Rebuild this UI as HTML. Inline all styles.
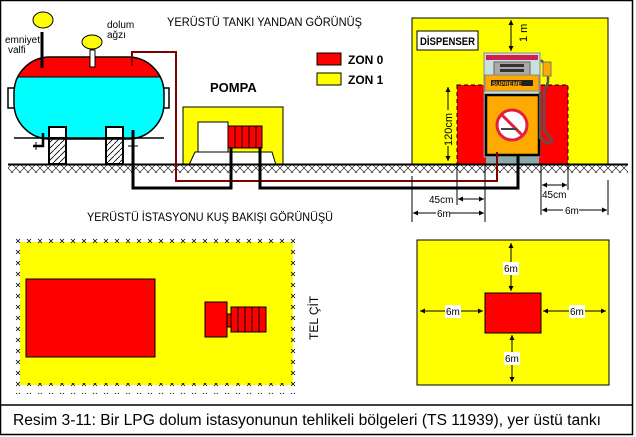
<!DOCTYPE html>
<html><head><meta charset="utf-8"><style>
html,body{margin:0;padding:0;background:#fff}
svg{display:block}
text{font-family:"Liberation Sans",sans-serif}
</style></head><body>
<svg width="636" height="437" viewBox="0 0 636 437" xmlns="http://www.w3.org/2000/svg">
<defs>
<pattern id="hx" width="8" height="8" patternUnits="userSpaceOnUse">
<path d="M0,0L8,8M8,0L0,8" stroke="#000" stroke-width="0.6"/>
</pattern>
<pattern id="hatch" width="6" height="6" patternUnits="userSpaceOnUse">
<path d="M0,6L6,0" stroke="#000" stroke-width="0.8"/>
</pattern>
<pattern id="fx" x="13" y="236" width="11" height="11" patternUnits="userSpaceOnUse">
<path d="M3,3L7,7M7,3L3,7" stroke="#000" stroke-width="0.8"/>
</pattern>
<marker id="ar" viewBox="0 0 6 6" refX="6" refY="3" markerWidth="5" markerHeight="5" orient="auto-start-reverse"><path d="M0,0L6,3L0,6z" fill="#000"/></marker>
</defs>
<rect x="0.5" y="0.5" width="632" height="434" fill="#fff" stroke="#000" stroke-width="1.5"/>
<line x1="0" y1="405" x2="633" y2="405" stroke="#000" stroke-width="1.5"/>
<text x="13" y="425" font-size="15.5" textLength="588" lengthAdjust="spacingAndGlyphs">Resim 3-11: Bir LPG dolum istasyonunun tehlikeli bölgeleri (TS 11939), yer üstü tankı</text>

<!-- titles -->
<text x="167" y="26" font-size="11.5" textLength="195" lengthAdjust="spacingAndGlyphs">YERÜSTÜ TANKI  YANDAN GÖRÜNÜŞ</text>
<text x="87" y="221" font-size="11.5" textLength="246" lengthAdjust="spacingAndGlyphs">YERÜSTÜ İSTASYONU  KUŞ BAKIŞI GÖRÜNÜŞÜ</text>

<!-- dispenser yellow zone -->
<rect x="412" y="18" width="196" height="147" fill="#ff0" stroke="#000"/>
<rect x="457" y="85" width="111" height="80" fill="#f00" stroke="#000" stroke-dasharray="4,3"/>
<rect x="417" y="31" width="61" height="19" fill="#fff" stroke="#000"/>
<text x="420" y="45" font-size="11" font-weight="bold" textLength="55" lengthAdjust="spacingAndGlyphs">DİSPENSER</text>
<line x1="511" y1="20" x2="511" y2="51" stroke="#000" marker-start="url(#ar)" marker-end="url(#ar)"/>
<text transform="translate(527,42) rotate(-90)" font-size="11">1 m</text>
<line x1="448" y1="87" x2="448" y2="161" stroke="#000" marker-start="url(#ar)" marker-end="url(#ar)"/>
<rect x="442" y="110" width="12" height="36" fill="#ff0"/>
<text transform="translate(452,146) rotate(-90)" font-size="11">120cm</text>

<!-- dispenser -->
<rect x="484" y="53" width="56" height="104" fill="#c8e0e0" stroke="#888"/>
<rect x="486" y="55" width="52" height="5" fill="#d02050"/>
<rect x="494" y="62" width="36" height="13" fill="#aaa" stroke="#666"/>
<rect x="500" y="64" width="24" height="3" fill="#333"/><rect x="500" y="69" width="24" height="3" fill="#333"/>
<rect x="485" y="75" width="54" height="16" fill="#fa0" stroke="#888"/>
<rect x="491" y="80" width="42" height="6" fill="#222"/>
<text x="492" y="86" font-size="6" fill="#fa0" font-weight="bold">SUPREME</text>
<rect x="486" y="95" width="53" height="60" fill="#fa0" stroke="#000" stroke-width="2.5"/>
<circle cx="512" cy="125" r="15" fill="#fff" stroke="#e02040" stroke-width="3"/>
<line x1="502" y1="115" x2="522" y2="135" stroke="#e02040" stroke-width="3"/>
<rect x="501" y="128" width="16" height="2" fill="#444"/>
<rect x="486" y="157" width="53" height="8" fill="#8aa"/>
<path d="M541,60 L548,68 L548,82 L544,92 L544,130 L552,140 L548,144 L540,138 L540,92" fill="none" stroke="#555" stroke-width="2.5"/>
<rect x="543" y="62" width="8" height="14" fill="#fa0" stroke="#777"/>

<!-- tank -->
<rect x="8" y="88" width="7" height="20" fill="#fff" stroke="#000" stroke-width="1.5"/>
<rect x="162" y="88" width="7" height="20" fill="#fff" stroke="#000" stroke-width="1.5"/>
<clipPath id="tc"><rect x="14" y="57" width="150" height="82" rx="36" ry="36"/></clipPath>
<g clip-path="url(#tc)">
<rect x="14" y="57" width="150" height="82" fill="#0ff"/>
<rect x="14" y="57" width="150" height="20" fill="#f00"/>
<line x1="14" y1="77" x2="164" y2="77" stroke="#000"/>
</g>
<rect x="14" y="57" width="150" height="82" rx="36" ry="36" fill="none" stroke="#000" stroke-width="1.5"/>
<line x1="42" y1="32" x2="42" y2="68" stroke="#000" stroke-width="3"/>
<ellipse cx="43" cy="20" rx="10" ry="8" fill="#ff0" stroke="#000"/>
<rect x="90" y="50" width="5" height="17" fill="#fff" stroke="#000"/>
<ellipse cx="92" cy="42" rx="10" ry="7" fill="#ff0" stroke="#000"/>
<text x="5" y="43" font-size="10">emniyet</text>
<text x="8" y="53" font-size="10">valfi</text>
<text x="107" y="28" font-size="10">dolum</text>
<text x="107" y="38" font-size="10">ağzı</text>
<line x1="14" y1="138" x2="164" y2="138" stroke="#000" stroke-width="1.5"/>
<rect x="49" y="127" width="17" height="37" fill="url(#hatch)" stroke="#000" stroke-width="2"/>
<rect x="106" y="127" width="17" height="37" fill="url(#hatch)" stroke="#000" stroke-width="2"/>
<rect x="49" y="127" width="17" height="11" fill="#fff" stroke="#000" stroke-width="2"/>
<rect x="106" y="127" width="17" height="11" fill="#fff" stroke="#000" stroke-width="2"/>
<path d="M43,133 L43,146 L33,146" fill="none" stroke="#000" stroke-width="2.5"/>
<line x1="36" y1="142" x2="36" y2="150" stroke="#000"/>
<line x1="128" y1="146" x2="138" y2="146" stroke="#000"/>

<!-- pump -->
<text x="210" y="92" font-size="13" font-weight="bold">POMPA</text>
<rect x="183" y="107" width="100" height="58" fill="#ff0" stroke="#000"/>
<path d="M189,165 L195,152 L272,152 L276,165" fill="#fff" stroke="#000"/>
<rect x="198" y="122" width="30" height="30" fill="#fff" stroke="#000"/>
<rect x="228" y="126" width="34" height="22" fill="#f00" stroke="#000"/>
<path d="M235,126V148M242,126V148M249,126V148M256,126V148" stroke="#000"/>

<!-- legend -->
<rect x="317" y="53" width="24" height="12" fill="#f00" stroke="#000"/>
<text x="348" y="64" font-size="12" font-weight="bold">ZON 0</text>
<rect x="317" y="73" width="24" height="12" fill="#ff0" stroke="#000"/>
<text x="348" y="84" font-size="12" font-weight="bold">ZON 1</text>

<!-- ground -->
<rect x="8" y="165" width="620" height="8" fill="url(#hx)"/>
<line x1="8" y1="164.5" x2="628" y2="164.5" stroke="#000" stroke-width="2"/>

<!-- pipes -->
<path d="M132,66 L132,52 L176,52 L176,181 L497,181 L497,152" fill="none" stroke="#800000" stroke-width="2"/>
<path d="M133,130 L133,188 L231,188 L231,147" fill="none" stroke="#000" stroke-width="3"/>
<path d="M260,147 L260,188 L518,188 L518,156" fill="none" stroke="#000" stroke-width="3"/>

<!-- dimensions -->
<g stroke="#000">
<line x1="412" y1="176" x2="412" y2="222"/>
<line x1="457" y1="165" x2="457" y2="205"/>
<line x1="485" y1="165" x2="485" y2="222"/>
<line x1="541" y1="165" x2="541" y2="215"/>
<line x1="568" y1="165" x2="568" y2="190"/>
<line x1="608" y1="180" x2="608" y2="215"/>
<line x1="458" y1="199" x2="484" y2="199" marker-end="url(#ar)" marker-start="url(#ar)"/>
<line x1="413" y1="213" x2="484" y2="213" marker-end="url(#ar)" marker-start="url(#ar)"/>
<line x1="542" y1="185" x2="567" y2="185" marker-end="url(#ar)" marker-start="url(#ar)"/>
<line x1="542" y1="210" x2="607" y2="210" marker-end="url(#ar)" marker-start="url(#ar)"/>
</g>
<rect x="428" y="193" width="27" height="12" fill="#fff"/>
<text x="429" y="203" font-size="10">45cm</text>
<rect x="436" y="207" width="14" height="12" fill="#fff"/>
<text x="437" y="217" font-size="10">6m</text>
<text x="542" y="198" font-size="10">45cm</text>
<rect x="563" y="204" width="16" height="12" fill="#fff"/>
<text x="565" y="214" font-size="10">6m</text>

<!-- bird's eye -->
<rect x="20" y="242" width="273" height="143" fill="#ff0"/>
<rect x="13" y="236" width="286" height="10" fill="url(#fx)"/>
<rect x="13" y="383" width="286" height="11" fill="url(#fx)"/>
<rect x="13" y="247" width="8" height="136" fill="url(#fx)"/>
<rect x="290" y="247" width="11" height="136" fill="url(#fx)"/>
<rect x="26" y="279" width="129" height="78" fill="#f00" stroke="#000"/>
<rect x="205" y="302" width="22" height="35" fill="#f00" stroke="#000"/>
<rect x="227" y="314" width="4" height="13" fill="#f00" stroke="#000"/>
<rect x="231" y="307" width="35" height="25" fill="#f00" stroke="#000"/>
<path d="M238,307V332M245,307V332M252,307V332M259,307V332" stroke="#000"/>
<text transform="translate(318,340) rotate(-90)" font-size="12">TEL ÇİT</text>

<rect x="417" y="240" width="192" height="145" fill="#ff0" stroke="#000"/>
<rect x="485" y="293" width="56" height="40" fill="#f00" stroke="#000"/>
<g stroke="#000">
<line x1="420" y1="311" x2="483" y2="311" marker-start="url(#ar)" marker-end="url(#ar)"/>
<line x1="543" y1="311" x2="606" y2="311" marker-start="url(#ar)" marker-end="url(#ar)"/>
<line x1="511" y1="243" x2="511" y2="291" marker-start="url(#ar)" marker-end="url(#ar)"/>
<line x1="512" y1="335" x2="512" y2="382" marker-start="url(#ar)" marker-end="url(#ar)"/>
</g>
<rect x="445" y="305" width="16" height="13" fill="#fff"/><text x="446" y="315" font-size="10">6m</text>
<rect x="569" y="305" width="16" height="13" fill="#fff"/><text x="570" y="315" font-size="10">6m</text>
<rect x="503" y="262" width="16" height="13" fill="#fff"/><text x="504" y="272" font-size="10">6m</text>
<rect x="504" y="352" width="16" height="13" fill="#fff"/><text x="505" y="362" font-size="10">6m</text>
</svg>
</body></html>
